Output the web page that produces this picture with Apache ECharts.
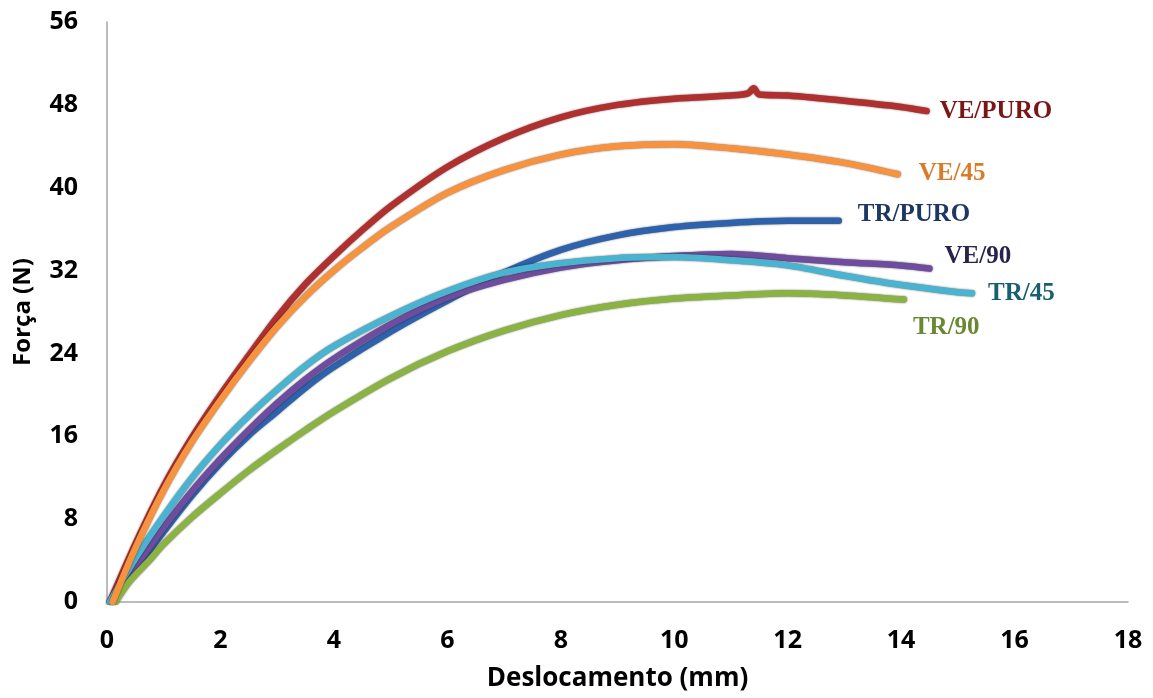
<!DOCTYPE html>
<html>
<head>
<meta charset="utf-8">
<script src="https://cdn.jsdelivr.net/npm/echarts@6/dist/echarts.min.js"></script>
<style>
html,body{margin:0;padding:0;background:#fff;}
#chart{width:1153px;height:698px;}
</style>
</head>
<body>
<div id="chart"></div>
<script>
// ---- data ----
const xTicks = [0, 2, 4, 6, 8, 10, 12, 14, 16, 18];
const yTicks = [0, 8, 16, 24, 32, 40, 48, 56];

const vePuroX = [0.05, 0.5, 1, 1.5, 2, 2.5, 3, 3.5, 4, 4.5, 5, 6, 7, 8, 9, 10, 11, 11.3, 11.4, 11.5, 12, 13, 14, 14.45];
const vePuroY = [0, 5.6, 11.2, 15.9, 20.0, 23.8, 27.5, 30.7, 33.4, 35.9, 38.2, 42.0, 44.8, 46.8, 48.0, 48.6, 48.9, 49.1, 49.6, 49.0, 48.9, 48.4, 47.8, 47.4];

const ve45X = [0.1, 0.5, 1, 1.5, 2, 2.5, 3, 3.5, 4, 4.5, 5, 6, 7, 8, 9, 10, 11, 12, 13, 13.94];
const ve45Y = [0, 5.2, 10.8, 15.5, 19.5, 23.2, 26.6, 29.5, 32.0, 34.2, 36.2, 39.5, 41.7, 43.2, 44.0, 44.2, 43.8, 43.2, 42.4, 41.3];

const trPuroX = [0.1, 0.5, 1, 1.5, 2, 2.5, 3, 3.5, 4, 5, 6, 7, 8, 9, 10, 11, 12, 12.9];
const trPuroY = [0, 3.1, 6.8, 10.3, 13.4, 16.1, 18.4, 20.7, 22.7, 26.1, 29.1, 31.8, 34.0, 35.4, 36.2, 36.6, 36.8, 36.8];

const ve90X = [0.1, 0.5, 1, 1.5, 2, 2.5, 3, 3.5, 4, 5, 6, 7, 8, 9, 10, 11, 12, 13, 14, 14.5];
const ve90Y = [0, 3.4, 7.2, 10.7, 13.8, 16.6, 19.2, 21.5, 23.5, 26.8, 29.4, 31.1, 32.3, 33.0, 33.4, 33.6, 33.2, 32.8, 32.5, 32.2];

const tr45X = [0.05, 0.5, 1, 1.5, 2, 2.5, 3, 3.5, 4, 5, 6, 7, 8, 9, 10, 11, 12, 13, 14, 15, 15.25];
const tr45Y = [0, 4.2, 8.3, 12.0, 15.2, 18.0, 20.5, 22.8, 24.7, 27.6, 30.0, 31.8, 32.7, 33.2, 33.3, 33.0, 32.5, 31.5, 30.6, 29.9, 29.8];

const tr90X = [0.15, 0.4, 0.76, 1, 1.5, 2, 2.5, 3, 3.5, 4, 5, 6, 7, 8, 9, 10, 11, 12, 13, 14.05];
const tr90Y = [0, 2.0, 4.1, 5.6, 8.2, 10.5, 12.7, 14.7, 16.6, 18.4, 21.6, 24.2, 26.2, 27.7, 28.7, 29.3, 29.6, 29.8, 29.6, 29.2];

const seriesNames = ['VE/PURO', 'TR/PURO', 'VE/90', 'TR/45', 'TR/90', 'VE/45'];
// ---------------------------------------------------

function pairs(xs, ys) { return xs.map((x, i) => [x, ys[i]]); }

const styleMap = {
  'VE/PURO': { line: '#b03030', label: '#7a1616', off: [5, 0], data: pairs(vePuroX, vePuroY) },
  'TR/PURO': { line: '#2e62ab', label: '#1d3763', off: [11, -6], data: pairs(trPuroX, trPuroY) },
  'VE/90':   { line: '#6f4d9e', label: '#27234a', off: [7, -12], data: pairs(ve90X, ve90Y) },
  'TR/45':   { line: '#4ab3cf', label: '#18606f', off: [8, 0], data: pairs(tr45X, tr45Y) },
  'TR/90':   { line: '#8ab343', label: '#6a8732', off: [1, 28], data: pairs(tr90X, tr90Y) },
  'VE/45':   { line: '#f7923f', label: '#d87c2a', off: [13, -1], data: pairs(ve45X, ve45Y) }
};

const chart = echarts.init(document.getElementById('chart'), null, { renderer: 'canvas' });

const series = seriesNames.map(name => {
  const s = styleMap[name];
  return {
    name: name,
    type: 'line',
    data: s.data,
    showSymbol: false,
    smooth: 0.3,
    lineStyle: {
      color: s.line,
      width: 6.5,
      shadowColor: 'rgba(0,0,0,0.6)',
      shadowBlur: 2,
      cap: 'round',
      join: 'round'
    },
    itemStyle: { color: s.line },
    endLabel: {
      show: true,
      formatter: name,
      color: s.label,
      fontFamily: '"Liberation Serif", "Times New Roman", serif',
      fontWeight: 'bold',
      fontSize: 25,
      offset: s.off
    },
    labelLayout: { hideOverlap: false },
    z: 2
  };
});

const tickFont = { fontFamily: '"Open Sans", Lato, sans-serif', fontWeight: 'bold', fontSize: 25, color: '#000' };

chart.setOption({
  animation: false,
  backgroundColor: '#ffffff',
  grid: { left: 107, right: 25, top: 22, bottom: 96, containLabel: false },
  xAxis: {
    type: 'value',
    min: xTicks[0],
    max: xTicks[xTicks.length - 1],
    interval: 2,
    name: 'Deslocamento (mm)',
    nameLocation: 'middle',
    nameGap: 64,
    nameTextStyle: { fontFamily: '"Open Sans", Lato, sans-serif', fontWeight: 'bold', fontSize: 26, color: '#000' },
    axisLine: { show: true, lineStyle: { color: '#a6a6a6', width: 1.5 } },
    axisTick: { show: false },
    splitLine: { show: false },
    axisLabel: Object.assign({ margin: 26 }, tickFont)
  },
  yAxis: {
    type: 'value',
    min: yTicks[0],
    max: yTicks[yTicks.length - 1],
    interval: 8,
    name: 'Força (N)',
    nameLocation: 'middle',
    nameGap: 72,
    nameRotate: 90,
    nameTextStyle: { fontFamily: '"Open Sans", Lato, sans-serif', fontWeight: 'bold', fontSize: 24, color: '#000' },
    axisLine: { show: true, lineStyle: { color: '#a6a6a6', width: 1.5 } },
    axisTick: { show: false },
    splitLine: { show: false },
    axisLabel: Object.assign({ margin: 29 }, tickFont)
  },
  legend: { show: false },
  tooltip: { show: false },
  series: series
});
</script>
</body>
</html>
